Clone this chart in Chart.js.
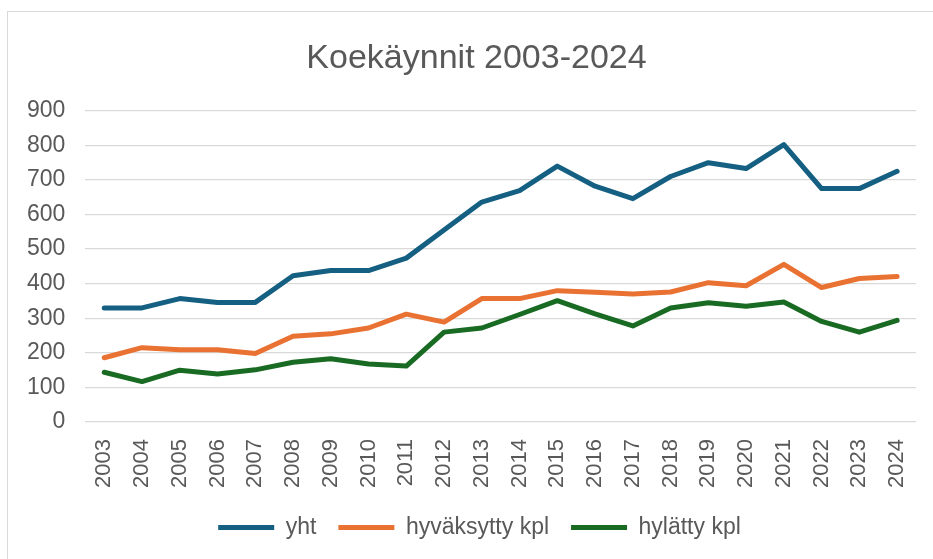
<!DOCTYPE html>
<html>
<head>
<meta charset="utf-8">
<script src="https://cdn.jsdelivr.net/npm/chart.js@4/dist/chart.umd.min.js"></script>
<style>
    body { margin: 0; background: #fff; }
    #kaavio { display: block; }
</style>
</head>
<body>
<canvas id="kaavio" width="933" height="559"></canvas>
<script>
const vuodet = ["2003", "2004", "2005", "2006", "2007", "2008", "2009", "2010", "2011", "2012", "2013",
    "2014", "2015", "2016", "2017", "2018", "2019", "2020", "2021", "2022", "2023", "2024"];
const yht = [330, 330, 357, 346, 346, 423, 438, 438, 474, 555, 636, 669, 740, 682, 646, 710, 750, 733, 802, 675, 675, 725];
const hyvaksytty = [186, 215, 209, 209, 198, 248, 255, 272, 312, 289, 357, 357, 380, 375, 370, 376, 403, 394, 456, 389, 415, 421];
const hylatty = [144, 117, 150, 139, 151, 173, 183, 168, 162, 260, 272, 311, 351, 313, 278, 330, 345, 335, 347, 291, 260, 294];

const harmaa = "#595959";
const fontti = "'Liberation Sans', Arial, sans-serif";

// ohut reunaviiva kaavion ympärillä + otsikon ja selitteen pieni siirto
const reunus = {
    id: "reunus",
    afterLayout(chart) {
        if (chart.titleBlock) {
            chart.titleBlock.left += 15;
            chart.titleBlock.right += 15;
        }
        if (chart.legend) {
            chart.legend.left += 18;
            chart.legend.right += 18;
            chart.legend.top -= 3;
            chart.legend.bottom -= 3;
        }
    },
    beforeDraw(chart) {
        const ctx = chart.ctx;
        ctx.save();
        ctx.strokeStyle = "#d9d9d9";
        ctx.lineWidth = 1;
        ctx.strokeRect(7.5, 11.5, 2000, 2000);
        ctx.restore();
    }
};

function sarja(nimi, data, vari) {
    return {
        label: nimi,
        data: data,
        borderColor: vari,
        backgroundColor: vari,
        borderWidth: 5,
        borderCapStyle: "round",
        borderJoinStyle: "round",
        pointRadius: 0,
        pointStyle: "line",
        tension: 0
    };
}

new Chart(document.getElementById("kaavio"), {
    type: "line",
    data: {
        labels: vuodet,
        datasets: [
            sarja("yht", yht, "#156082"),
            sarja("hyväksytty kpl", hyvaksytty, "#e97132"),
            sarja("hylätty kpl", hylatty, "#196b24")
        ]
    },
    options: {
        responsive: false,
        animation: false,
        layout: {
            padding: { left: 7, right: 17, top: 14, bottom: 7 }
        },
        plugins: {
            title: {
                display: true,
                text: "Koekäynnit 2003-2024",
                color: harmaa,
                font: { family: fontti, size: 34, weight: "normal" },
                padding: { top: 24, bottom: 32 }
            },
            legend: {
                position: "bottom",
                labels: {
                    color: harmaa,
                    font: { family: fontti, size: 23 },
                    usePointStyle: true,
                    boxWidth: 44,
                    boxHeight: 5,
                    pointStyleWidth: 56,
                    padding: 22
                }
            },
            tooltip: { enabled: false }
        },
        scales: {
            x: {
                offset: true,
                grid: { display: false },
                border: { display: false },
                ticks: {
                    color: harmaa,
                    font: { family: fontti, size: 22 },
                    minRotation: 90,
                    maxRotation: 90,
                    padding: 9,
                    autoSkip: false
                }
            },
            y: {
                min: 0,
                max: 900,
                grid: { color: "#d9d9d9", lineWidth: 1.3, drawTicks: false },
                border: { display: false },
                ticks: {
                    stepSize: 100,
                    color: harmaa,
                    font: { family: fontti, size: 23 },
                    padding: 20
                }
            }
        }
    },
    plugins: [reunus]
});
</script>
</body>
</html>
